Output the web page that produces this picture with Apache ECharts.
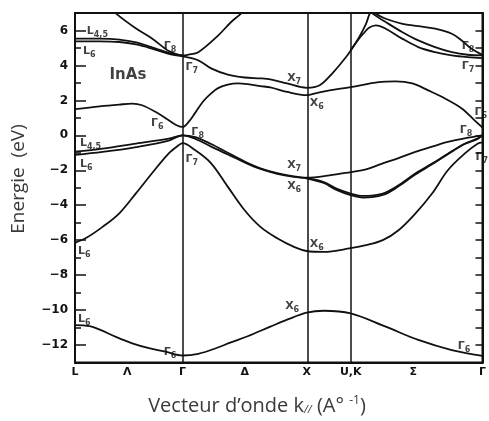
<!DOCTYPE html>
<html>
<head>
<meta charset="utf-8">
<script src="https://cdn.jsdelivr.net/npm/echarts@6/dist/echarts.min.js"></script>
<style>
  html, body { margin: 0; padding: 0; background: #fff; }
  #chart { width: 489px; height: 421px; }
</style>
</head>
<body>
<div id="chart"></div>
<script>
// Path L – Γ – X – U,K – Γ, k measured along the path in units of 2π/a
const kTicks = [0, 0.421, 0.866, 1.366, 1.866, 2.220, 2.724, 3.281];
const kNames = ['L', 'Λ', 'Γ', 'Δ', 'X', 'U,K', 'Σ', 'Γ'];
const kLines = [0.866, 1.866, 2.220];
const energyTicks = [-12, -10, -8, -6, -4, -2, 0, 2, 4, 6];

// Conduction bands [k, E (eV)]
const bandC_Gamma8 = [[0.278, 7.4], [0.334, 6.95], [0.492, 6.11], [0.620, 5.54], [0.755, 4.82], [0.834, 4.6], [0.866, 4.57], [0.913, 4.62], [0.993, 4.76], [1.152, 5.71], [1.255, 6.47], [1.334, 6.95], [1.374, 7.25]];
const bandC_L45 = [[0, 5.53], [0.199, 5.53], [0.357, 5.48], [0.492, 5.32], [0.620, 5.03], [0.755, 4.72], [0.866, 4.57]];
const bandC_L6 = [[0, 5.38], [0.199, 5.38], [0.357, 5.34], [0.492, 5.2], [0.620, 4.96], [0.755, 4.66], [0.866, 4.52], [0.993, 4.29], [1.096, 3.83], [1.231, 3.47], [1.366, 3.31], [1.493, 3.26], [1.573, 3.2], [1.708, 2.97], [1.866, 2.72], [1.970, 2.86], [2.081, 3.62], [2.184, 4.5], [2.220, 4.86], [2.288, 5.62], [2.343, 6.38], [2.367, 6.86], [2.383, 7.1]];
const bandC_Gamma6 = [[0, 1.5], [0.199, 1.66], [0.357, 1.76], [0.461, 1.81], [0.540, 1.72], [0.651, 1.33], [0.755, 0.86], [0.818, 0.58], [0.866, 0.48], [0.913, 0.75], [0.969, 1.3], [1.033, 1.95], [1.096, 2.4], [1.152, 2.7], [1.231, 2.9], [1.311, 2.97], [1.390, 2.93], [1.493, 2.82], [1.573, 2.74], [1.708, 2.48], [1.866, 2.3], [1.946, 2.42], [2.049, 2.57], [2.220, 2.76], [2.446, 3.05], [2.581, 3.09], [2.716, 2.97], [2.844, 2.57], [2.979, 2.11], [3.114, 1.54], [3.217, 0.86], [3.281, 0.45]];
const bandC_Sigma1 = [[2.220, 4.86], [2.288, 5.55], [2.319, 5.8], [2.367, 6.15], [2.423, 6.29], [2.502, 6.1], [2.637, 5.52], [2.764, 5.05], [2.899, 4.76], [3.034, 4.57], [3.161, 4.47], [3.281, 4.42]];
const bandC_Sigma2 = [[2.383, 7.1], [2.399, 6.95], [2.502, 6.48], [2.637, 5.9], [2.764, 5.43], [2.899, 5.05], [3.034, 4.76], [3.161, 4.61], [3.281, 4.58]];
const bandC_Sigma3 = [[2.410, 7.1], [2.423, 6.95], [2.502, 6.67], [2.637, 6.38], [2.764, 6.25], [2.899, 6.1], [3.034, 5.81], [3.114, 5.43], [3.193, 4.95], [3.281, 4.6]];

// Valence bands [k, E (eV)]
const bandV_heavy = [[0, -0.93], [0.222, -0.76], [0.492, -0.47], [0.755, -0.19], [0.866, 0], [0.969, -0.1], [1.096, -0.5], [1.231, -1.0], [1.366, -1.5], [1.493, -1.89], [1.628, -2.17], [1.763, -2.35], [1.866, -2.42], [2.049, -2.29], [2.220, -2.1], [2.343, -1.95], [2.462, -1.65], [2.605, -1.3], [2.740, -0.95], [2.875, -0.65], [3.002, -0.38], [3.137, -0.17], [3.281, 0]];
const bandV_light = [[0, -1.12], [0.222, -0.95], [0.492, -0.67], [0.755, -0.3], [0.866, 0], [0.969, -0.2], [1.096, -0.65], [1.231, -1.1], [1.366, -1.55], [1.493, -1.92], [1.628, -2.2], [1.763, -2.38], [1.866, -2.46], [2.002, -2.67], [2.105, -3.05], [2.220, -3.33], [2.319, -3.47], [2.478, -3.33], [2.605, -2.86], [2.740, -2.19], [2.875, -1.62], [3.002, -1.05], [3.137, -0.48], [3.241, -0.19], [3.281, 0]];
const bandV_X6b = [[1.866, -2.46], [2.002, -2.73], [2.105, -3.12], [2.220, -3.42], [2.319, -3.56], [2.478, -3.41], [2.605, -2.92], [2.740, -2.24], [2.875, -1.66], [3.002, -1.08], [3.137, -0.5], [3.241, -0.2], [3.281, 0]];
const bandV_splitoff = [[0, -6.15], [0.095, -5.85], [0.222, -5.24], [0.357, -4.46], [0.492, -3.31], [0.620, -2.17], [0.755, -1.03], [0.834, -0.57], [0.866, -0.45], [0.969, -0.86], [1.096, -1.6], [1.231, -2.95], [1.366, -4.29], [1.493, -5.24], [1.628, -5.89], [1.763, -6.38], [1.866, -6.62], [2.002, -6.67], [2.220, -6.46], [2.343, -6.29], [2.478, -6.0], [2.605, -5.43], [2.740, -4.48], [2.875, -3.33], [3.002, -2.0], [3.137, -1.05], [3.241, -0.48], [3.281, -0.4]];
const bandV_low = [[0, -10.86], [0.119, -10.92], [0.199, -11.12], [0.334, -11.55], [0.461, -11.9], [0.596, -12.18], [0.731, -12.38], [0.866, -12.6], [0.993, -12.5], [1.128, -12.2], [1.255, -11.85], [1.390, -11.5], [1.573, -10.95], [1.708, -10.55], [1.866, -10.15], [2.002, -10.04], [2.220, -10.19], [2.502, -10.95], [2.764, -11.71], [3.034, -12.29], [3.281, -12.62]];

const bands = [bandC_Gamma8, bandC_L45, bandC_L6, bandC_Gamma6, bandC_Sigma1, bandC_Sigma2, bandC_Sigma3,
  bandV_heavy, bandV_light, bandV_X6b, bandV_splitoff, bandV_low];

// Symmetry-point labels: [k, E, symbol, subscript]
const levelLabels = [
  [0.095, 5.94, 'L', '4,5'], [0.064, 4.8, 'L', '6'], [0.715, 5.09, 'Γ', '8'],
  [0.890, 3.89, 'Γ', '7'], [1.708, 3.26, 'X', '7'], [1.890, 1.83, 'X', '6'],
  [3.114, 5.09, 'Γ', '8'], [3.114, 3.94, 'Γ', '7'], [0.612, 0.69, 'Γ', '6'],
  [0.937, 0.17, 'Γ', '8'], [0.040, -0.46, 'L', '4,5'], [0.040, -1.66, 'L', '6'],
  [0.890, -1.37, 'Γ', '7'], [3.217, 1.31, 'Γ', '6'], [3.098, 0.29, 'Γ', '8'],
  [3.225, -1.26, 'Γ', '7'], [1.708, -1.71, 'X', '7'], [1.708, -2.91, 'X', '6'],
  [0.024, -6.63, 'L', '6'], [1.890, -6.23, 'X', '6'], [0.024, -10.51, 'L', '6'],
  [0.715, -12.4, 'Γ', '6'], [1.692, -9.77, 'X', '6'], [3.082, -12.06, 'Γ', '6']
];
const materialLabel = [[0.278, 3.43, 'InAs']];

const FONT = 'DejaVu Sans';
const INK = '#111';
const TITLE = '#3a3a3a';

const chart = echarts.init(document.getElementById('chart'), null, { renderer: 'canvas' });

const lineSeries = bands.map((b, i) => ({
  type: 'line',
  data: b,
  yAxisIndex: 0,
  showSymbol: false,
  smooth: 0.35,
  lineStyle: { color: INK, width: 1.8 },
  silent: true,
  z: 3,
  markLine: i === 0 ? {
    silent: true,
    symbol: 'none',
    label: { show: false },
    lineStyle: { color: INK, width: 1.5, type: 'solid' },
    data: kLines.map(k => ({ xAxis: k }))
  } : undefined
}));

const option = {
  animation: false,
  backgroundColor: '#fff',
  grid: { left: 75, right: 1.5, top: 13, bottom: 58.5, show: true, borderColor: INK, borderWidth: 2, backgroundColor: 'transparent' },
  xAxis: {
    type: 'value', min: 0, max: kTicks[kTicks.length - 1],
    axisLine: { show: true, onZero: false, lineStyle: { color: INK, width: 2 } },
    axisTick: { show: false },
    splitLine: { show: false },
    axisLabel: {
      customValues: kTicks,
      margin: 4,
      color: INK,
      fontFamily: FONT, fontWeight: 'bold', fontSize: 11,
      formatter: v => {
        let best = 0;
        kTicks.forEach((t, i) => { if (Math.abs(t - v) < Math.abs(kTicks[best] - v)) best = i; });
        return kNames[best];
      }
    }
  },
  yAxis: [
    {
      type: 'value', min: -13, max: 7, interval: 1, position: 'left',
      axisLine: { show: true, onZero: false, lineStyle: { color: INK, width: 2 } },
      axisTick: { show: true, inside: true, length: 6, lineStyle: { color: INK, width: 1.5 } },
      axisLabel: { show: false },
      splitLine: { show: false }
    },
    {
      type: 'value', min: -13, max: 7, position: 'left',
      axisLine: { show: false, onZero: false },
      axisTick: { show: true, inside: true, length: 11, customValues: energyTicks, lineStyle: { color: INK, width: 1.5 } },
      axisLabel: {
        customValues: energyTicks, margin: 7, color: INK,
        fontFamily: FONT, fontWeight: 'bold', fontSize: 12,
        formatter: v => (v < 0 ? '\u2212' + (-v) : String(v))
      },
      splitLine: { show: false }
    },
    {
      type: 'value', min: -13, max: 7, interval: 1, position: 'right',
      axisLine: { show: true, onZero: false, lineStyle: { color: INK, width: 2 } },
      axisTick: { show: true, inside: true, length: 7, lineStyle: { color: INK, width: 1.5 } },
      axisLabel: { show: false },
      splitLine: { show: false }
    }
  ],
  series: lineSeries.concat([
    {
      type: 'scatter', data: levelLabels, yAxisIndex: 0, symbolSize: 0, silent: true, z: 5,
      label: {
        show: true, position: 'right', distance: 0, color: INK,
        formatter: p => '{m|' + p.data[2] + '}{s|' + p.data[3] + '}',
        rich: {
          m: { fontFamily: FONT, fontWeight: 'bold', fontSize: 11, color: INK },
          s: { fontFamily: FONT, fontWeight: 'bold', fontSize: 8, color: INK, padding: [7, 0, 0, 0] }
        }
      }
    },
    {
      type: 'scatter', data: materialLabel, yAxisIndex: 0, symbolSize: 0, silent: true, z: 5,
      label: {
        show: true, position: 'right', distance: 0, color: INK,
        fontFamily: FONT, fontWeight: 'bold', fontSize: 15,
        formatter: p => p.data[2]
      }
    }
  ]),
  graphic: [
    {
      type: 'text', x: 19, y: 179, rotation: Math.PI / 2,
      style: {
        text: 'Energie  (eV)', fill: TITLE,
        font: '19px "Open Sans"', textAlign: 'center', textVerticalAlign: 'middle'
      }
    },
    {
      type: 'text', x: 257, y: 406,
      style: {
        text: '{n|Vecteur d\u2019onde k}{s|//}{n| (A\u00b0 }{p|-1}{n|)}',
        fill: TITLE, textAlign: 'center', textVerticalAlign: 'middle',
        rich: {
          n: { fontFamily: 'Open Sans', fontSize: 20, fill: TITLE },
          s: { fontFamily: 'Open Sans', fontSize: 11, fontStyle: 'italic', fill: TITLE, padding: [8, 0, 0, 0] },
          p: { fontFamily: 'Open Sans', fontSize: 12, fill: TITLE, padding: [0, 0, 10, 0] }
        }
      }
    }
  ]
};

chart.setOption(option);
</script>
</body>
</html>
